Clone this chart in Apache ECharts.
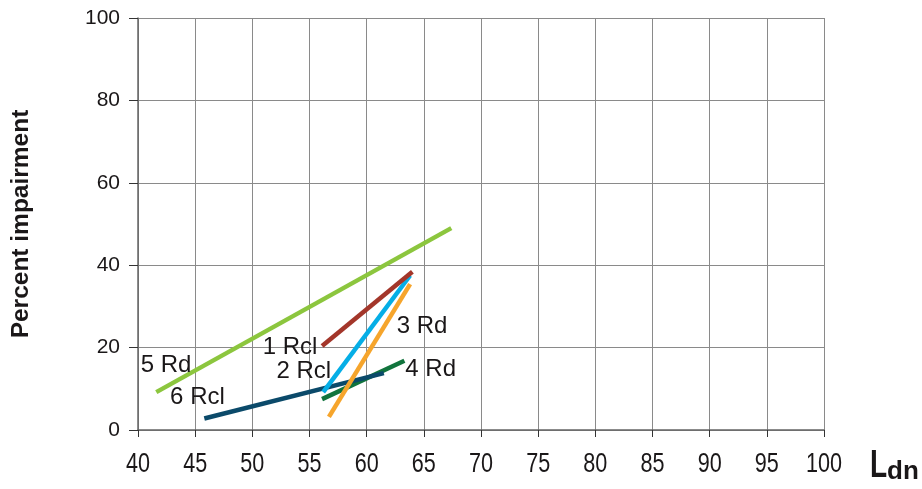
<!DOCTYPE html>
<html><head><meta charset="utf-8">
<script src="https://cdn.jsdelivr.net/npm/echarts@6/dist/echarts.min.js"></script>
<style>html,body{margin:0;padding:0;background:#fff}#c{width:922px;height:489px}</style>
</head><body><div id="c"></div>
<script>
// Series: name, x endpoints, y endpoints
const seriesNames = ['5 Rd', '4 Rd', '6 Rcl', '3 Rd', '2 Rcl', '1 Rcl'];
const lineX = [[41.6, 67.4], [56.1, 63.3], [45.8, 61.5], [56.7, 63.8], [56.2, 63.8], [56.1, 64.0]];
const lineY = [[9.2, 49.0], [7.5, 16.8], [2.8, 13.8], [3.2, 35.4], [9.2, 37.5], [20.4, 38.4]];
const seriesColors = ['#8cc63e', '#11743d', '#0b4a6a', '#f6a52c', '#05aee6', '#a3362a'];
// Label anchor positions (data coords)
const labelX = [42.45, 65.6, 45.2, 64.85, 54.5, 53.3];
const labelY = [15.8, 14.7, 8.0, 25.1, 14.3, 20.1];
const xTicks = [40, 45, 50, 55, 60, 65, 70, 75, 80, 85, 90, 95, 100];
const yTicks = [0, 20, 40, 60, 80, 100];

const font = 'Liberation Sans, Arial, sans-serif';
const ink = '#1a1718';
const chart = echarts.init(document.getElementById('c'));
const series = seriesNames.map((n, i) => ({
  name: n, type: 'line', showSymbol: false, silent: true,
  data: [[lineX[i][0], lineY[i][0]], [lineX[i][1], lineY[i][1]]],
  lineStyle: { color: seriesColors[i], width: 4.5, cap: 'butt' },
  itemStyle: { color: seriesColors[i] }, z: 3 + i
}));
chart.setOption({
  animation: false,
  grid: { left: 138, right: 98, top: 18, bottom: 59 },
  xAxis: {
    type: 'value', min: xTicks[0], max: xTicks[xTicks.length - 1], interval: 5,
    axisLine: { show: true, lineStyle: { color: '#666', width: 1.5 } },
    axisTick: { show: true, length: 7, lineStyle: { color: '#333' } },
    axisLabel: { show: false },
    splitLine: { show: true, lineStyle: { color: '#8a8a8a', width: 1 } }
  },
  yAxis: {
    type: 'value', min: yTicks[0], max: yTicks[yTicks.length - 1], interval: 20,
    name: 'Percent impairment', nameLocation: 'middle', nameGap: 104,
    nameTextStyle: { color: ink, fontSize: 24.5, fontWeight: 'bold', fontFamily: font },
    axisLine: { show: true, lineStyle: { color: '#666', width: 1.5 } },
    axisTick: { show: true, inside: false, length: 9, lineStyle: { color: '#333' } },
    axisLabel: { color: ink, fontSize: 21, fontFamily: font, margin: 18 },
    splitLine: { show: true, lineStyle: { color: '#8a8a8a', width: 1 } }
  },
  series: series
});
// text elements placed through the chart's own scales
const g = [];
const y0 = chart.convertToPixel({ xAxisIndex: 0, yAxisIndex: 0 }, [xTicks[0], yTicks[0]])[1];
xTicks.forEach(v => {
  const px = chart.convertToPixel({ xAxisIndex: 0, yAxisIndex: 0 }, [v, yTicks[0]]);
  g.push({ type: 'text', x: px[0], y: y0 + 21, scaleX: 0.8, z: 50,
    style: { text: String(v), align: 'center', verticalAlign: 'top', fontSize: 27, fontFamily: font, fill: ink } });
});
seriesNames.forEach((n, i) => {
  const px = chart.convertToPixel({ xAxisIndex: 0, yAxisIndex: 0 }, [labelX[i], labelY[i]]);
  g.push({ type: 'text', x: px[0], y: px[1], z: 50,
    style: { text: n, align: 'center', verticalAlign: 'middle', fontSize: 24, fontFamily: font, fill: ink } });
});
g.push({ type: 'text', x: 870, y: 447, scaleX: 0.72, z: 50, style: { text: 'L', fontSize: 39, fontWeight: 'bold', fontFamily: font, fill: ink } });
g.push({ type: 'text', x: 887, y: 459, z: 50, style: { text: 'dn', fontSize: 26, fontWeight: 'bold', fontFamily: font, fill: ink } });
chart.setOption({ graphic: g });
</script></body></html>
